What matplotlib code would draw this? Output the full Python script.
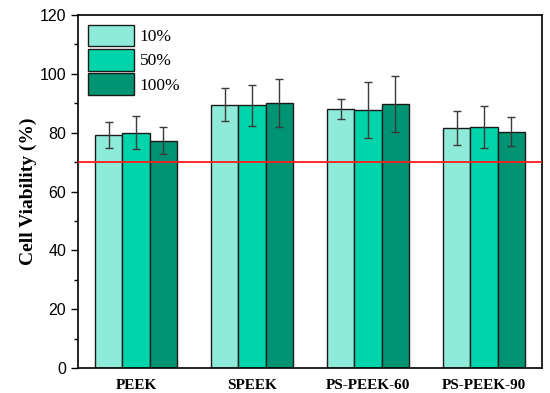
import matplotlib
matplotlib.use("Agg")
import matplotlib.pyplot as plt
import numpy as np

categories = ["PEEK", "SPEEK", "PS-PEEK-60", "PS-PEEK-90"]
series_names = ["10%", "50%", "100%"]
values_10 = [79.3, 89.5, 88.0, 81.5]
values_50 = [80.0, 89.3, 87.7, 81.9]
values_100 = [77.3, 90.0, 89.6, 80.3]
err_10 = [4.4, 5.6, 3.4, 5.7]
err_50 = [5.7, 6.9, 9.6, 7.0]
err_100 = [4.7, 8.2, 9.5, 4.9]
threshold = 70
yticks = [0, 20, 40, 60, 80, 100, 120]

colors = ["#8FEBD9", "#00D4AA", "#009473"]

fig = plt.figure(figsize=(5.5, 3.93), dpi=100)
ax = fig.add_axes([78/550, 1-368/393, 464/550, 353/393])

x = np.arange(len(categories))
w = 0.233
for i, (vals, errs) in enumerate([(values_10, err_10), (values_50, err_50), (values_100, err_100)]):
    ax.bar(x + (i-1)*w, vals, w, color=colors[i], edgecolor="#1a1a1a", linewidth=1.0,
           label=series_names[i], zorder=2)
    ax.errorbar(x + (i-1)*w, vals, yerr=errs, fmt="none", ecolor="#3a3a3a",
                elinewidth=1.0, capsize=3, capthick=1.0, zorder=3)

ax.axhline(threshold, color="#ff1a1a", linewidth=1.3, zorder=4)

ax.set_xlim(-0.5, 3.5)
ax.set_ylim(0, 120)
ax.set_yticks(yticks)
ax.set_yticks(np.arange(10, 120, 20), minor=True)
ax.set_xticks(x)
ax.set_xticklabels(categories, fontfamily="Liberation Serif", fontweight="bold", fontsize=11)
ax.tick_params(axis="x", length=0, pad=8)
ax.tick_params(axis="y", which="major", direction="out", length=5, width=1, labelsize=11.5)
ax.tick_params(axis="y", which="minor", direction="out", length=3, width=1)
for lab in ax.get_yticklabels():
    lab.set_fontfamily("Liberation Sans")
for s in ax.spines.values():
    s.set_linewidth(1.2)

ax.set_ylabel("Cell Viability (%)", fontfamily="Liberation Serif", fontweight="bold",
              fontsize=14, labelpad=1.5)

leg = ax.legend(loc="upper left", frameon=False, prop={"family": "Liberation Serif", "size": 12.5},
                handlelength=2.7, handleheight=1.55, labelspacing=0.15, handletextpad=0.3,
                borderaxespad=0.3, borderpad=0.25)

fig.savefig("out.png", dpi=100)
